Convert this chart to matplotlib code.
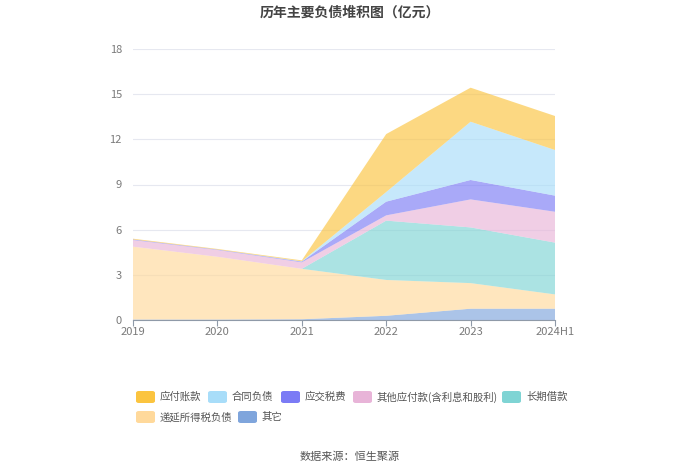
import matplotlib
matplotlib.use("Agg")
import matplotlib.pyplot as plt
from matplotlib.patches import FancyBboxPatch
import numpy as np

plt.rcParams['font.family'] = ['Noto Sans CJK SC', 'DejaVu Sans']

years = ["2019", "2020", "2021", "2022", "2023", "2024H1"]
# stacking order bottom -> top
names = ["其它", "递延所得税负债", "长期借款", "其他应付款(含利息和股利)", "应交税费", "合同负债", "应付账款"]
other = [0.03, 0.03, 0.05, 0.28, 0.75, 0.75]
deferred_tax = [4.84, 4.17, 3.35, 2.38, 1.70, 0.95]
long_loan = [0.00, 0.00, 0.00, 3.94, 3.70, 3.44]
other_payable = [0.44, 0.45, 0.43, 0.35, 1.86, 2.05]
tax_payable = [0.04, 0.03, 0.05, 0.91, 1.29, 1.07]
contract_liab = [0.00, 0.00, 0.02, 0.64, 3.87, 3.03]
accounts_payable = [0.05, 0.04, 0.06, 3.85, 2.26, 2.26]

series = [other, deferred_tax, long_loan, other_payable, tax_payable, contract_liab, accounts_payable]
colors = ["#7fa5dc", "#ffd99b", "#7fd4d4", "#e8b4d8", "#7b7bf5", "#a8ddf9", "#fbc43f"]

fig = plt.figure(figsize=(7, 4.74), dpi=100)
ax = fig.add_axes([133 / 700, 1 - 320 / 474, (555 - 133) / 700, (320 - 49) / 474])

x = np.arange(len(years))
ax.stackplot(x, *series, colors=colors, alpha=0.65, linewidth=0)

ax.set_xlim(0, len(years) - 1)
ax.set_ylim(0, 18)
ax.set_yticks(np.arange(0, 19, 3))
ax.set_xticks(x)
ax.set_xticklabels(years)
ax.grid(axis='y', color='#e6e8f0', linewidth=0.8)
ax.set_axisbelow(True)
for s in ['top', 'right', 'left']:
    ax.spines[s].set_visible(False)
ax.spines['bottom'].set_color('#8f9aa8')
ax.tick_params(axis='y', length=0, labelsize=8, labelcolor='#7a7a7a', pad=8)
ax.tick_params(axis='x', length=4, color='#8f9aa8', labelsize=8, labelcolor='#7a7a7a', pad=1)

fig.text(0.5, 1 - 13 / 474, "历年主要负债堆积图（亿元）", ha='center', va='center',
         fontsize=10, fontweight='bold', color='#444444')

# legend drawn by hand: two rows
legend_order = [6, 5, 4, 3, 2, 1, 0]
pos = [(136, 397), (208, 397), (281, 397), (353, 397), (502, 397), (136, 417), (238, 417)]
for idx, (px, py) in zip(legend_order, pos):
    p = FancyBboxPatch((px / 700, 1 - (py + 6) / 474), 19 / 700, 12 / 474,
                       boxstyle="round,pad=0,rounding_size=0.004",
                       transform=fig.transFigure, facecolor=colors[idx], edgecolor='none')
    fig.patches.append(p)
    fig.text((px + 24) / 700, 1 - py / 474, names[idx], ha='left', va='center',
             fontsize=7.5, color='#555555')

fig.text(0.5, 1 - 457 / 474, "数据来源：恒生聚源", ha='center', va='center',
         fontsize=8, color='#555555')

fig.savefig("out.png", dpi=100)
